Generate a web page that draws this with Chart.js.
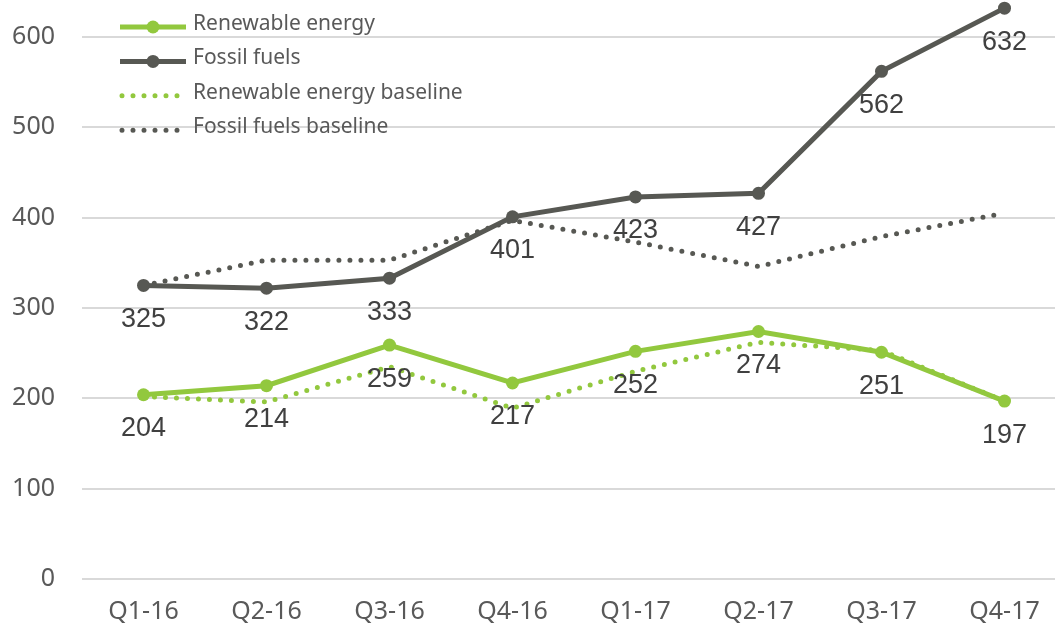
<!DOCTYPE html>
<html>
<head>
<meta charset="utf-8">
<script src="https://cdn.jsdelivr.net/npm/chart.js@4.4.1/dist/chart.umd.min.js"></script>
<style>
  html, body { margin: 0; padding: 0; background: #fff; overflow: hidden; }
  #wrap { position: relative; width: 1066px; height: 625px; }
</style>
</head>
<body>
<div id="wrap"><canvas id="energyChart"></canvas></div>
<script>
// ===== DATA =====
const quarters = ["Q1-16", "Q2-16", "Q3-16", "Q4-16", "Q1-17", "Q2-17", "Q3-17", "Q4-17"];
const renewable = [204, 214, 259, 217, 252, 274, 251, 197];
const fossil = [325, 322, 333, 401, 423, 427, 562, 632];
const renewableBaseline = [202, 196, 235, 189, 230, 262, 253, 197];
const fossilBaseline = [325, 353, 353, 397, 373, 346, 379, 405];
const yTickValues = [0, 100, 200, 300, 400, 500, 600];

const GREEN = "#92c83e";
const DARK = "#575853";
const UI_FONT = "'Noto Sans', 'Open Sans', sans-serif";

// ===== value labels under the points =====
const valueLabels = {
  id: "valueLabels",
  afterDatasetsDraw(chart) {
    const ctx = chart.ctx;
    ctx.save();
    ctx.font = "27px 'Liberation Sans', Arial, sans-serif";
    ctx.fillStyle = "#404040";
    ctx.textAlign = "center";
    ctx.textBaseline = "middle";
    chart.data.datasets.forEach((ds, i) => {
      if (!ds.showValues) return;
      chart.getDatasetMeta(i).data.forEach((pt, j) => {
        ctx.fillText(String(ds.data[j]), pt.x, pt.y + 34);
      });
    });
    ctx.restore();
  }
};

// ===== legend stacked top-left =====
const stackedLegend = {
  id: "stackedLegend",
  afterDraw(chart) {
    const ctx = chart.ctx;
    chart.data.datasets.forEach((ds, i) => {
      const y = 27 + i * 34.4;
      ctx.save();
      ctx.strokeStyle = ds.borderColor;
      ctx.lineWidth = ds.borderWidth;
      ctx.lineCap = ds.borderCapStyle || "butt";
      ctx.setLineDash(ds.borderDash || []);
      ctx.beginPath();
      ctx.moveTo(ds.borderDash ? 122 : 120, y);
      ctx.lineTo(186, y);
      ctx.stroke();
      ctx.setLineDash([]);
      if (ds.pointRadius) {
        ctx.fillStyle = ds.borderColor;
        ctx.beginPath();
        ctx.arc(153, y, ds.pointRadius, 0, Math.PI * 2);
        ctx.fill();
      }
      ctx.font = "21px " + UI_FONT;
      ctx.fillStyle = "#595959";
      ctx.textAlign = "left";
      ctx.textBaseline = "middle";
      ctx.fillText(ds.label, 193, y - 3);
      ctx.restore();
    });
  }
};

const ctx = document.getElementById("energyChart").getContext("2d");

new Chart(ctx, {
  type: "line",
  data: {
    labels: quarters,
    datasets: [
      {
        label: "Renewable energy",
        data: renewable,
        borderColor: GREEN,
        backgroundColor: GREEN,
        borderWidth: 5,
        pointRadius: 6.5,
        pointHoverRadius: 6.5,
        pointBorderWidth: 0,
        tension: 0,
        clip: false,
        showValues: true,
        order: 0
      },
      {
        label: "Fossil fuels",
        data: fossil,
        borderColor: DARK,
        backgroundColor: DARK,
        borderWidth: 5,
        pointRadius: 6.5,
        pointHoverRadius: 6.5,
        pointBorderWidth: 0,
        tension: 0,
        clip: false,
        showValues: true,
        order: 0
      },
      {
        label: "Renewable energy baseline",
        data: renewableBaseline,
        borderColor: GREEN,
        borderWidth: 5,
        borderDash: [0, 11],
        borderCapStyle: "round",
        pointRadius: 0,
        tension: 0,
        order: 1
      },
      {
        label: "Fossil fuels baseline",
        data: fossilBaseline,
        borderColor: DARK,
        borderWidth: 5,
        borderDash: [0, 11],
        borderCapStyle: "round",
        pointRadius: 0,
        tension: 0,
        order: 1
      }
    ]
  },
  options: {
    responsive: true,
    maintainAspectRatio: false,
    animation: false,
    layout: { padding: 0, autoPadding: false },
    plugins: {
      legend: { display: false },
      tooltip: { enabled: false }
    },
    scales: {
      x: {
        offset: true,
        grid: { display: false },
        border: { display: false },
        ticks: {
          color: "#595959",
          padding: 10,
          font: { family: UI_FONT, size: 25 }
        },
        afterFit: scale => {
          scale.height = 46;
          scale.paddingLeft = 0;
          scale.paddingRight = 0;
        }
      },
      y: {
        min: 0,
        max: 641,
        afterBuildTicks: scale => {
          scale.ticks = yTickValues.map(v => ({ value: v }));
        },
        grid: {
          color: "#d9d9d9",
          lineWidth: 2,
          drawTicks: false
        },
        border: { display: false },
        ticks: {
          color: "#595959",
          padding: 27,
          font: { family: UI_FONT, size: 25 }
        },
        afterFit: scale => {
          scale.width = 82;
          scale.paddingTop = 0;
          scale.paddingBottom = 0;
        }
      }
    }
  },
  plugins: [valueLabels, stackedLegend]
});
</script>
</body>
</html>
